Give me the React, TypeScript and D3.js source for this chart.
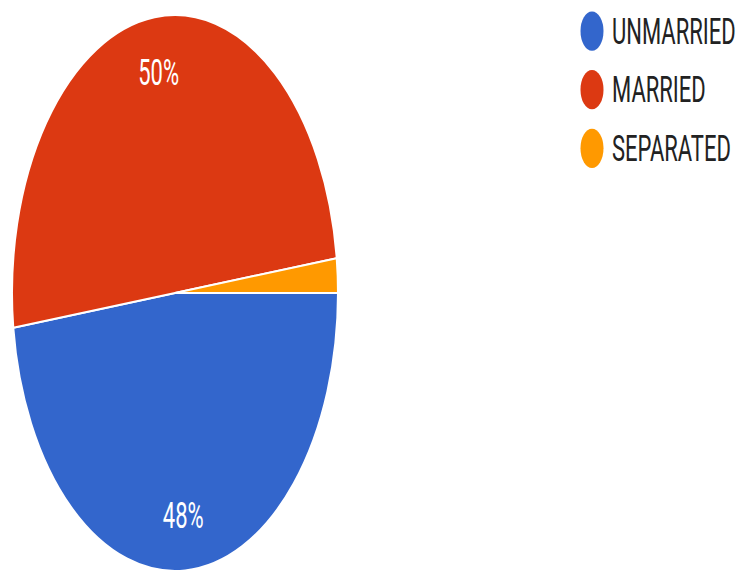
import React from "react";
import * as d3 from "d3";

const categories = ["UNMARRIED", "MARRIED", "SEPARATED"];
const values = [24, 25, 1];
const colors = ["#3366cc", "#dc3912", "#ff9900"];

const W = 744;
const H = 572;
const SY = 1.705; // vertical stretch of the picture
const R = 163;
const CX = 175;
const CY = 293 / SY;

export default function App() {
  const total = d3.sum(values);
  const pie = d3
    .pie<number>()
    .sort(null)
    .startAngle(Math.PI / 2)
    .endAngle(Math.PI / 2 + 2 * Math.PI)(values);
  const arc = d3.arc<d3.PieArcDatum<number>>().innerRadius(0).outerRadius(R);
  const labelArc = d3
    .arc<d3.PieArcDatum<number>>()
    .innerRadius(R * 0.8)
    .outerRadius(R * 0.8);
  const fmt = d3.format(".0%");

  const legendY = d3
    .scalePoint<string>()
    .domain(categories)
    .range([18.2, 87]);

  return (
    <svg
      width={W}
      height={H}
      style={{ position: "absolute", left: 0, top: 0, background: "#fff" }}
    >
      <g transform={`scale(1, ${SY})`}>
        <g transform={`translate(${CX}, ${CY})`}>
          {pie.map((d, i) => (
            <path
              key={i}
              d={arc(d) || ""}
              fill={colors[i]}
              stroke="#fff"
              strokeWidth={2}
              vectorEffect="non-scaling-stroke"
            />
          ))}
          {pie.map((d, i) => {
            const frac = values[i] / total;
            if (frac < 0.05) return null;
            const [x, y] = labelArc.centroid(d);
            return (
              <text
                key={i}
                x={x}
                y={y}
                textAnchor="middle"
                dominantBaseline="central"
                fill="#fff"
                fontFamily="Roboto, Arial, sans-serif"
                fontSize={22}
              >
                {fmt(frac)}
              </text>
            );
          })}
        </g>
        {categories.map((c, i) => (
          <g key={c} transform={`translate(0, ${legendY(c)})`}>
            <circle cx={592} cy={0} r={11.5} fill={colors[i]} />
            <text
              x={612}
              y={0}
              dominantBaseline="central"
              fill="#222"
              fontFamily="Roboto, Arial, sans-serif"
              fontSize={22}
            >
              {c}
            </text>
          </g>
        ))}
      </g>
    </svg>
  );
}
